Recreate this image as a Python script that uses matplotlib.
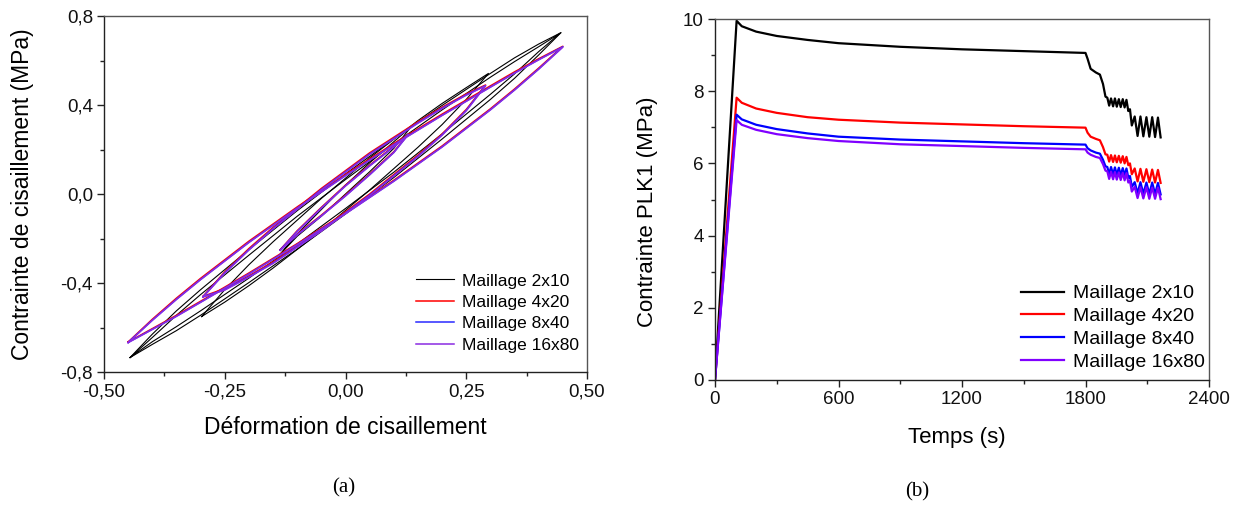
import matplotlib
matplotlib.use('Agg')
import matplotlib.pyplot as plt

plt.rcParams['font.family'] = ['Liberation Sans', 'DejaVu Sans']

# ---- (a) hysteresis loops: strain / stress (MPa) ----
series_names = ['Maillage 2x10', 'Maillage 4x20', 'Maillage 8x40', 'Maillage 16x80']
series_colors = ['#000000', '#ff0000', '#2a2aff', '#8a2be2']

# black mesh (2x10): two large cycles, one medium, one small
bx_outer = [-0.446, -0.40, -0.35, -0.30, -0.20, -0.10, 0.00, 0.10, 0.20, 0.30, 0.35, 0.40, 0.446,
            0.40, 0.35, 0.30, 0.20, 0.10, 0.00, -0.10, -0.20, -0.30, -0.35, -0.40, -0.446]
black_outer = [-0.735, -0.63, -0.525, -0.43, -0.25, -0.075, 0.09, 0.248, 0.398, 0.542, 0.612, 0.674, 0.725,
               0.625, 0.52, 0.425, 0.247, 0.074, -0.09, -0.248, -0.398, -0.545, -0.614, -0.676, -0.735]
black_outer2 = [-0.735, -0.645, -0.545, -0.452, -0.275, -0.10, 0.065, 0.225, 0.378, 0.525, 0.595, 0.662, 0.725,
                0.64, 0.54, 0.448, 0.27, 0.098, -0.065, -0.225, -0.378, -0.525, -0.596, -0.664, -0.735]
bx_mid = [-0.298, -0.25, -0.20, -0.15, -0.05, 0.05, 0.15, 0.20, 0.25, 0.296,
          0.25, 0.20, 0.15, 0.05, -0.05, -0.15, -0.20, -0.25, -0.298]
black_mid = [-0.551, -0.43, -0.318, -0.215, -0.02, 0.162, 0.33, 0.407, 0.478, 0.542,
             0.425, 0.312, 0.21, 0.018, -0.165, -0.333, -0.412, -0.486, -0.551]
bx_small = [-0.135, -0.10, -0.05, 0.0, 0.05, 0.10, 0.135, 0.10, 0.05, 0.0, -0.05, -0.10, -0.135]
black_small = [-0.27, -0.18, -0.07, 0.04, 0.14, 0.235, 0.30, 0.205, 0.10, 0.0, -0.10, -0.19, -0.27]

# finer meshes (4x20, 8x40, 16x80)
gx_outer = [-0.45, -0.40, -0.35, -0.30, -0.20, -0.10, 0.00, 0.10, 0.20, 0.30, 0.35, 0.40, 0.45,
            0.40, 0.35, 0.30, 0.20, 0.10, 0.00, -0.10, -0.20, -0.30, -0.35, -0.40, -0.45]
red_outer = [-0.665, -0.563, -0.468, -0.379, -0.212, -0.058, 0.088, 0.227, 0.359, 0.486, 0.549, 0.608, 0.664,
             0.566, 0.472, 0.383, 0.216, 0.062, -0.084, -0.223, -0.355, -0.482, -0.545, -0.605, -0.665]
blue_outer = [-0.667, -0.567, -0.473, -0.384, -0.217, -0.063, 0.083, 0.222, 0.354, 0.481, 0.544, 0.604, 0.662,
              0.562, 0.468, 0.379, 0.212, 0.058, -0.088, -0.227, -0.359, -0.486, -0.549, -0.608, -0.667]
purple_outer = [-0.668, -0.568, -0.474, -0.385, -0.218, -0.064, 0.082, 0.221, 0.353, 0.480, 0.543, 0.603, 0.660,
                0.561, 0.467, 0.378, 0.211, 0.057, -0.089, -0.228, -0.360, -0.487, -0.550, -0.609, -0.668]
gx_mid = [-0.295, -0.25, -0.20, -0.15, -0.05, 0.05, 0.15, 0.20, 0.25, 0.29,
          0.25, 0.20, 0.15, 0.05, -0.05, -0.15, -0.20, -0.25, -0.295]
red_mid = [-0.46, -0.35, -0.245, -0.15, 0.025, 0.185, 0.325, 0.39, 0.45, 0.49,
           0.38, 0.27, 0.175, 0.0, -0.16, -0.305, -0.368, -0.425, -0.46]
blue_mid = [-0.462, -0.354, -0.25, -0.155, 0.02, 0.18, 0.32, 0.386, 0.446, 0.487,
            0.376, 0.266, 0.17, -0.005, -0.165, -0.31, -0.372, -0.43, -0.462]
purple_mid = [-0.463, -0.356, -0.252, -0.157, 0.018, 0.178, 0.318, 0.384, 0.444, 0.486,
              0.374, 0.264, 0.168, -0.007, -0.167, -0.312, -0.374, -0.432, -0.463]
gx_small = [-0.135, -0.10, -0.05, 0.0, 0.05, 0.10, 0.13, 0.10, 0.05, 0.0, -0.05, -0.10, -0.135]
red_small = [-0.25, -0.165, -0.06, 0.04, 0.13, 0.215, 0.27, 0.19, 0.09, -0.005, -0.095, -0.18, -0.25]
blue_small = [-0.252, -0.168, -0.063, 0.037, 0.127, 0.212, 0.268, 0.187, 0.087, -0.008, -0.098, -0.183, -0.252]
purple_small = [-0.253, -0.169, -0.064, 0.036, 0.126, 0.211, 0.267, 0.186, 0.086, -0.009, -0.099, -0.184, -0.253]

loops_a = [
    [(bx_small, black_small), (bx_mid, black_mid), (bx_outer, black_outer), (bx_outer, black_outer2)],
    [(gx_small, red_small), (gx_mid, red_mid), (gx_outer, red_outer)],
    [(gx_small, blue_small), (gx_mid, blue_mid), (gx_outer, blue_outer)],
    [(gx_small, purple_small), (gx_mid, purple_mid), (gx_outer, purple_outer)],
]
widths_a = [0.8, 1.1, 1.1, 1.1]

xticks_a = [-0.5, -0.25, 0.0, 0.25, 0.5]
xticklabels_a = ['-0,50', '-0,25', '0,00', '0,25', '0,50']
yticks_a = [-0.8, -0.4, 0.0, 0.4, 0.8]
yticklabels_a = ['-0,8', '-0,4', '0,0', '0,4', '0,8']

# ---- (b) PLK1 stress vs time ----
time_s = [0, 105, 130, 200, 300, 450, 600, 900, 1200, 1500, 1800, 1810, 1825, 1850, 1870, 1885, 1897,
          1906, 1915, 1924, 1934, 1943, 1952, 1962, 1971, 1981, 1990, 1999, 2008, 2016, 2025,
          2039, 2053, 2067, 2081, 2096, 2110, 2124, 2138, 2152, 2165]
plk_black = [0, 9.95, 9.8, 9.65, 9.53, 9.42, 9.33, 9.23, 9.16, 9.11, 9.06, 8.9, 8.62, 8.52, 8.46, 8.2, 7.85,
             7.82, 7.6, 7.8, 7.58, 7.8, 7.57, 7.78, 7.56, 7.78, 7.55, 7.76, 7.45, 7.5, 7.05,
             7.3, 6.76, 7.3, 6.75, 7.28, 6.74, 7.28, 6.73, 7.27, 6.72]
plk_red = [0, 7.82, 7.68, 7.52, 7.4, 7.28, 7.21, 7.13, 7.08, 7.03, 6.99, 6.85, 6.74, 6.68, 6.64, 6.45, 6.25,
           6.24, 6.05, 6.23, 6.04, 6.22, 6.03, 6.21, 6.02, 6.2, 6.0, 6.18, 5.95, 6.0, 5.7,
           5.86, 5.5, 5.85, 5.49, 5.84, 5.48, 5.83, 5.47, 5.82, 5.46]
plk_blue = [0, 7.35, 7.22, 7.07, 6.95, 6.83, 6.74, 6.66, 6.61, 6.56, 6.52, 6.42, 6.36, 6.3, 6.27, 6.1, 5.92,
            5.9, 5.7, 5.9, 5.69, 5.89, 5.68, 5.88, 5.67, 5.87, 5.66, 5.86, 5.6, 5.65, 5.35,
            5.48, 5.17, 5.48, 5.16, 5.47, 5.15, 5.47, 5.15, 5.46, 5.14]
plk_purple = [0, 7.2, 7.07, 6.93, 6.81, 6.7, 6.62, 6.53, 6.48, 6.43, 6.39, 6.3, 6.24, 6.18, 6.15, 5.98, 5.8,
              5.78, 5.57, 5.77, 5.56, 5.76, 5.55, 5.75, 5.54, 5.74, 5.53, 5.73, 5.47, 5.52, 5.22,
              5.35, 5.04, 5.34, 5.03, 5.34, 5.02, 5.33, 5.02, 5.33, 5.01]
plk_series = [plk_black, plk_red, plk_blue, plk_purple]
colors_b = ['#000000', '#ff0000', '#0000ff', '#8000ff']

xticks_b = [0, 600, 1200, 1800, 2400]
yticks_b = [0, 2, 4, 6, 8, 10]


def style_axes(ax, tick_size):
    for sp in ax.spines.values():
        sp.set_color('#555555')
        sp.set_linewidth(1.0)
    ax.spines['left'].set_color('#222222')
    ax.spines['bottom'].set_color('#222222')
    ax.tick_params(which='both', direction='out', top=False, right=False,
                   colors='#222222', labelcolor='#111111')
    ax.tick_params(which='major', length=5, width=1.0, labelsize=tick_size, pad=3)
    ax.tick_params(which='minor', length=3, width=1.0)


fig = plt.figure(figsize=(12.4, 5.08), dpi=100)

# (a)
ax1 = fig.add_axes([104 / 1240, 1 - 372 / 508, 483 / 1240, 356 / 508])
for name, col, lw, loops in zip(series_names, series_colors, widths_a, loops_a):
    for k, (xs, ys) in enumerate(loops):
        ax1.plot(xs, ys, color=col, lw=lw, label=name if k == 0 else None)
ax1.set_xlim(-0.5, 0.5)
ax1.set_ylim(-0.8, 0.8)
ax1.set_xticks(xticks_a)
ax1.set_xticklabels(xticklabels_a)
ax1.set_xticks([-0.375, -0.125, 0.125, 0.375], minor=True)
ax1.set_yticks(yticks_a)
ax1.set_yticklabels(yticklabels_a)
ax1.set_yticks([-0.6, -0.2, 0.2, 0.6], minor=True)
style_axes(ax1, 13.5)
ax1.set_xlabel('Déformation de cisaillement', fontsize=16.5, va='center')
ax1.xaxis.set_label_coords(0.5, (372 - 428) / 356)
ax1.set_ylabel('Contrainte de cisaillement (MPa)', fontsize=16.5, va='center')
ax1.yaxis.set_label_coords((23 - 104) / 483, 0.5)
ax1.legend(loc='upper left', bbox_to_anchor=(0.645, 0.277), frameon=False, fontsize=12.5,
           handlelength=2.2, handletextpad=0.45, labelspacing=0.36, borderpad=0, borderaxespad=0)

# (b)
ax2 = fig.add_axes([715 / 1240, 1 - 380 / 508, 494 / 1240, 361 / 508])
for name, col, ys in zip(series_names, colors_b, plk_series):
    ax2.plot(time_s, ys, color=col, lw=1.6, label=name)
ax2.set_xlim(0, 2400)
ax2.set_ylim(0, 10)
ax2.set_xticks(xticks_b)
ax2.set_xticks([300, 900, 1500, 2100], minor=True)
ax2.set_yticks(yticks_b)
ax2.set_yticks([1, 3, 5, 7, 9], minor=True)
style_axes(ax2, 13.5)
ax2.set_xlabel('Temps (s)', fontsize=16, va='center')
ax2.xaxis.set_label_coords((957 - 715) / 494, (380 - 437) / 361)
ax2.set_ylabel('Contrainte PLK1 (MPa)', fontsize=16, va='center')
ax2.yaxis.set_label_coords((648 - 715) / 494, (380 - 212) / 361)
ax2.legend(loc='upper left', bbox_to_anchor=(0.62, 0.264), frameon=False, fontsize=14,
           handlelength=2.2, handletextpad=0.45, labelspacing=0.27, borderpad=0, borderaxespad=0)

fig.text(344 / 1240, 1 - 488 / 508, '(a)', ha='center', va='center',
         family='Liberation Serif', fontsize=15)
fig.text(917 / 1240, 1 - 492 / 508, '(b)', ha='center', va='center',
         family='Liberation Serif', fontsize=15)

fig.savefig('out.png', dpi=100)
